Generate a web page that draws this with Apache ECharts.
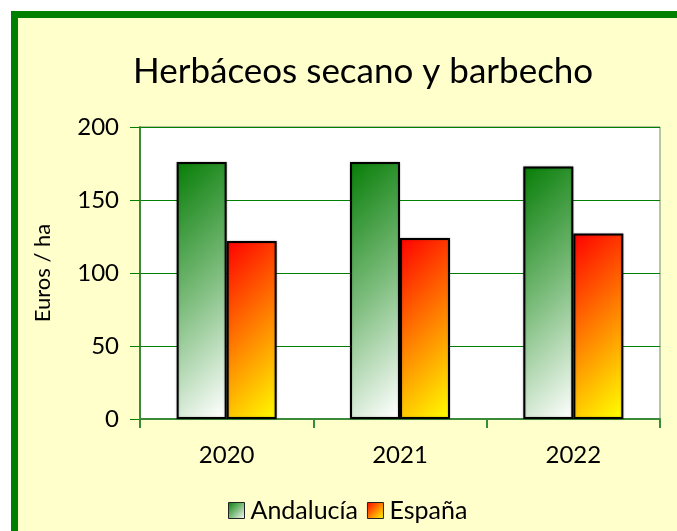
<!DOCTYPE html>
<html>
<head>
<meta charset="utf-8">
<script src="https://cdn.jsdelivr.net/npm/echarts@6/dist/echarts.min.js"></script>
<style>
html,body{margin:0;padding:0;background:#fff;}
#c{width:677px;height:531px;}
</style>
</head>
<body>
<div id="c"></div>
<script>
var categories = ['2020', '2021', '2022'];
var andalucia = [176, 176, 173];
var espana = [122, 124, 127];
var yTicks = [0, 50, 100, 150, 200];

var FONT = 'Lato';
function grad(x2, y2, stops) {
  return new echarts.graphic.LinearGradient(0, 0, x2, y2, stops.map(function (c, i) {
    return {offset: i / (stops.length - 1), color: c};
  }));
}
var greenStops = ['#067d06', '#7cbc7c', '#ffffff'];
var redStops = ['#ff0000', '#ff8000', '#ffff00'];

var chart = echarts.init(document.getElementById('c'), null, {renderer: 'canvas'});
chart.setOption({
  backgroundColor: '#ffffff',
  animation: false,
  graphic: [{
    type: 'rect', z: -10, silent: true,
    shape: {x: 14.5, y: 14.5, width: 720, height: 620},
    style: {fill: '#ffffcc', stroke: '#008000', lineWidth: 7}
  }],
  title: {
    text: 'Herbáceos secano y barbecho',
    left: 128, top: 49,
    textStyle: {fontFamily: FONT, fontSize: 35, fontWeight: 'normal', color: '#000'}
  },
  legend: {
    data: [
      {name: 'Andalucía', itemStyle: {color: grad(1, 1, greenStops)}},
      {name: 'España', itemStyle: {color: grad(1, 1, redStops)}}
    ],
    left: 223, top: 493,
    itemWidth: 16, itemHeight: 16, itemGap: 9,
    icon: 'rect',
    itemStyle: {borderWidth: 1, borderColor: '#222', shadowBlur: 0},
    textStyle: {fontFamily: FONT, fontSize: 25, color: '#000', padding: [0, 0, 0, 1]}
  },
  grid: {
    left: 140, right: 17, top: 127, bottom: 112,
    show: true, backgroundColor: '#ffffff', borderColor: '#6a8a6a', borderWidth: 1
  },
  xAxis: {
    type: 'category', data: categories,
    axisLine: {lineStyle: {color: '#3a8a3a', width: 2}},
    axisTick: {show: true, length: 9, lineStyle: {color: '#3a8a3a', width: 2}},
    axisLabel: {fontFamily: FONT, fontSize: 24, color: '#000', margin: 24}
  },
  yAxis: {
    type: 'value', min: yTicks[0], max: yTicks[yTicks.length - 1], interval: 50,
    name: 'Euros / ha', nameLocation: 'middle', nameGap: 86, nameRotate: 90,
    nameTextStyle: {fontFamily: FONT, fontSize: 22, color: '#000'},
    axisLine: {show: true, lineStyle: {color: '#3a8a3a', width: 2}},
    axisTick: {show: true, length: 10, lineStyle: {color: '#008000'}},
    splitLine: {lineStyle: {color: '#008000', width: 1}},
    axisLabel: {fontFamily: FONT, fontSize: 24, color: '#000', margin: 21}
  },
  series: [{
    name: 'Andalucía', type: 'bar', data: andalucia,
    barWidth: 50, barGap: '0%',
    itemStyle: {color: grad(3, 0.6, greenStops), borderColor: '#000', borderWidth: 2,
      shadowColor: 'rgba(0,0,0,0.3)', shadowBlur: 2}
  }, {
    name: 'España', type: 'bar', data: espana,
    barWidth: 50, barGap: '0%',
    itemStyle: {color: grad(2.3, 0.64, redStops), borderColor: '#000', borderWidth: 2,
      shadowColor: 'rgba(0,0,0,0.3)', shadowBlur: 2}
  }]
});
</script>
</body>
</html>
